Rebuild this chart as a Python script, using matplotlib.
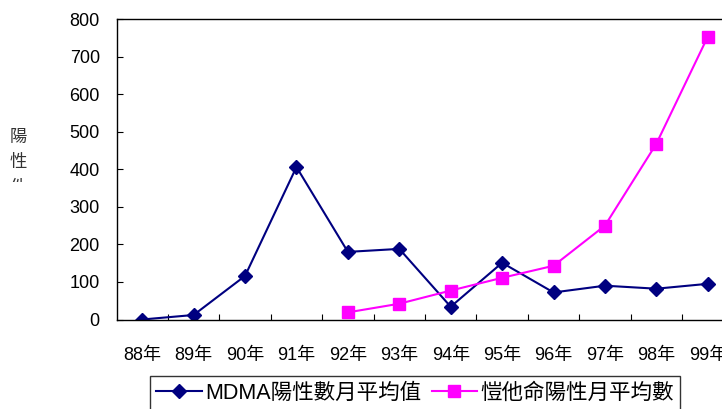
import matplotlib

matplotlib.use("Agg")
import matplotlib.pyplot as plt
import numpy as np
from matplotlib.transforms import Bbox, TransformedBbox

plt.rcParams["font.family"] = ["Liberation Sans", "Noto Sans CJK TC", "DejaVu Sans"]

years = ["88年", "89年", "90年", "91年", "92年", "93年", "94年", "95年", "96年", "97年", "98年", "99年"]
mdma = [0, 12, 116, 406, 180, 188, 34, 151, 72, 90, 82, 95]
ketamine_years = ["92年", "93年", "94年", "95年", "96年", "97年", "98年", "99年"]
ketamine = [19, 42, 77, 111, 143, 250, 468, 753]

x = np.arange(len(years))
xk = np.array([years.index(y) for y in ketamine_years])

fig = plt.figure(figsize=(7.22, 4.09), dpi=100)
# the original plot area runs past the right edge of the picture
ax = fig.add_axes([116.5 / 722, 1 - 319.5 / 409, 617 / 722, 300.5 / 409])

ax.plot(x, mdma, color="#000080", marker="D", markersize=7, linewidth=1.5,
        label="MDMA陽性數月平均值")
ax.plot(xk, ketamine, color="#FF00FF", marker="s", markersize=8.5, linewidth=1.5,
        label="愷他命陽性月平均數")

ax.set_xlim(-0.5, len(years) - 0.5)
ax.set_ylim(0, 800)
ax.set_yticks(np.arange(0, 801, 100))
ax.set_xticks(x)
ax.set_xticklabels(years)
ax.set_xticks(np.arange(0.5, len(years) - 0.5, 1), minor=True)
ax.tick_params(axis="x", which="major", length=0, pad=20, labelsize=13)
ax.tick_params(axis="x", which="minor", direction="in", length=4, width=0.8)
ax.tick_params(axis="y", direction="in", length=4, width=0.8, pad=12, labelsize=13)
for sp in ax.spines.values():
    sp.set_linewidth(1.0)

# vertical y label, cut off by the chart's frame in the original
t = fig.text(18 / 722, 1 - 130 / 409, "陽\n性\n件\n數", ha="center", va="top",
             fontsize=12.5, linespacing=1.72, color="#333333")
t.set_clip_box(TransformedBbox(Bbox([[0, 1 - 182 / 409], [0.1, 1]]), fig.transFigure))
t.set_clip_on(True)

leg = fig.legend(loc="upper left", bbox_to_anchor=(150 / 722, 1 - 376 / 409),
                 ncol=2, frameon=True, fancybox=False, edgecolor="black",
                 fontsize=15.5, handlelength=2.1, handletextpad=0.15, columnspacing=0.5,
                 borderpad=0.3, borderaxespad=0)
leg.get_frame().set_linewidth(1.0)

fig.savefig("out.png", dpi=100)
plt.close(fig)
